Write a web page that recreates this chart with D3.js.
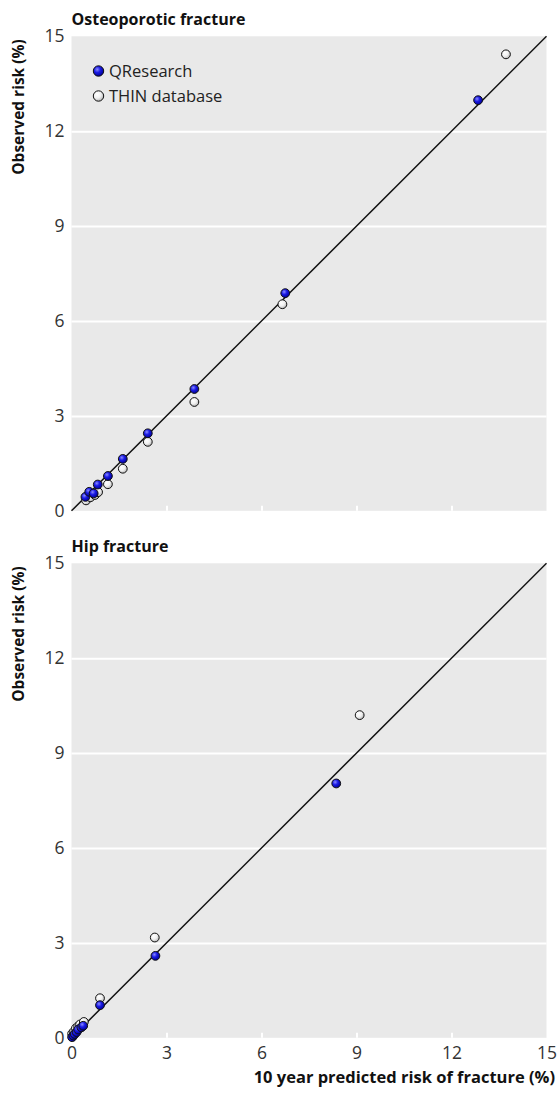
<!DOCTYPE html>
<html>
<head>
<meta charset="utf-8">
<script src="https://cdn.jsdelivr.net/npm/d3@7/dist/d3.min.js"></script>
<style>
  html, body { margin: 0; padding: 0; background: #fff; }
  svg { display: block; }
  .tick text { font-family: "Open Sans", sans-serif; }
</style>
</head>
<body>
<svg id="chart" width="558" height="1104"></svg>
<script>
// ---- Data ----
const ticks = [0, 3, 6, 9, 12, 15];
const seriesNames = ["QResearch", "THIN database"];

// Osteoporotic fracture: [predicted, observed]
const osteoQResearch = [[0.44,0.44],[0.56,0.60],[0.70,0.55],[0.83,0.83],[1.15,1.10],[1.62,1.64],[2.41,2.45],[3.88,3.85],[6.75,6.88],[12.84,12.98]];
const osteoTHIN = [[0.46,0.33],[0.60,0.43],[0.74,0.50],[0.84,0.59],[1.15,0.84],[1.62,1.33],[2.41,2.18],[3.88,3.44],[6.66,6.53],[13.72,14.43]];

// Hip fracture
const hipQResearch = [[0.02,0.02],[0.06,0.07],[0.10,0.12],[0.16,0.18],[0.21,0.26],[0.31,0.33],[0.37,0.38],[0.90,1.03],[2.65,2.59],[8.36,8.04]];
const hipTHIN = [[0.02,0.13],[0.08,0.20],[0.14,0.30],[0.21,0.36],[0.27,0.42],[0.39,0.50],[0.90,1.25],[2.63,3.17],[9.10,10.20]];

const panelTitles = ["Osteoporotic fracture", "Hip fracture"];
const yTitle = "Observed risk (%)";
const xTitle = "10 year predicted risk of fracture (%)";

// ---- Layout ----
const svg = d3.select("#chart");
const L = 71.5, R = 546.5;
const panels = [
  { top: 36.3, bottom: 510.8, title: panelTitles[0], q: osteoQResearch, t: osteoTHIN, legend: true, xLabels: false },
  { top: 563.3, bottom: 1037.8, title: panelTitles[1], q: hipQResearch, t: hipTHIN, legend: false, xLabels: true }
];

const defs = svg.append("defs");
const gb = defs.append("radialGradient").attr("id", "gBlue").attr("cx", "38%").attr("cy", "35%").attr("r", "65%");
gb.append("stop").attr("offset", "0%").attr("stop-color", "#8a8aff");
gb.append("stop").attr("offset", "45%").attr("stop-color", "#1c1ce6");
gb.append("stop").attr("offset", "100%").attr("stop-color", "#00009a");
const gw = defs.append("radialGradient").attr("id", "gWhite").attr("cx", "38%").attr("cy", "35%").attr("r", "65%");
gw.append("stop").attr("offset", "0%").attr("stop-color", "#ffffff");
gw.append("stop").attr("offset", "55%").attr("stop-color", "#f0f0f0");
gw.append("stop").attr("offset", "100%").attr("stop-color", "#b8b8b8");

const x = d3.scaleLinear().domain([0, 15]).range([L, R]);

panels.forEach(p => {
  const y = d3.scaleLinear().domain([0, 15]).range([p.bottom, p.top]);
  const g = svg.append("g");

  g.append("rect").attr("x", L).attr("y", p.top).attr("width", R - L).attr("height", p.bottom - p.top)
    .attr("fill", "#e9e9e9");

  // horizontal white gridlines
  const grid = g.append("g").attr("transform", `translate(${L},0)`)
    .call(d3.axisLeft(y).tickValues(ticks.filter(v => v > 0 && v < 15)).tickSize(-(R - L)).tickFormat(""));
  grid.select(".domain").remove();
  grid.selectAll("line").attr("stroke", "#ffffff").attr("stroke-width", 2);

  // x tick marks (white, inside bottom)
  const xt = g.append("g").attr("transform", `translate(0,${p.bottom})`)
    .call(d3.axisTop(x).tickValues(ticks.filter(v => v > 0 && v < 15)).tickSize(5).tickFormat(""));
  xt.select(".domain").remove();
  xt.selectAll("line").attr("stroke", "#ffffff").attr("stroke-width", 2);

  // y tick labels
  const ya = g.append("g").attr("transform", `translate(${L},0)`)
    .call(d3.axisLeft(y).tickValues(ticks).tickSize(0).tickPadding(7));
  ya.select(".domain").remove();
  ya.selectAll("text").attr("font-size", 17.5).attr("fill", "#333");

  if (p.xLabels) {
    const xa = g.append("g").attr("transform", `translate(0,${p.bottom})`)
      .call(d3.axisBottom(x).tickValues(ticks).tickSize(0).tickPadding(9));
    xa.select(".domain").remove();
    xa.selectAll("text").attr("font-size", 17.5).attr("fill", "#333");
  }

  // identity line
  g.append("line")
    .attr("x1", x(0)).attr("y1", y(0)).attr("x2", x(15)).attr("y2", y(15))
    .attr("stroke", "#111").attr("stroke-width", 1.5);

  // points
  g.append("g").selectAll("circle").data(p.t).join("circle")
    .attr("cx", d => x(d[0])).attr("cy", d => y(d[1])).attr("r", 4.4)
    .attr("fill", "url(#gWhite)").attr("stroke", "#111").attr("stroke-width", 1);
  g.append("g").selectAll("circle").data(p.q).join("circle")
    .attr("cx", d => x(d[0])).attr("cy", d => y(d[1])).attr("r", 4.4)
    .attr("fill", "url(#gBlue)").attr("stroke", "#111").attr("stroke-width", 1);

  // panel title
  g.append("text").attr("x", L).attr("y", p.top - 11)
    .attr("font-family", "'Open Sans', sans-serif").attr("font-weight", "bold").attr("font-size", 16)
    .attr("fill", "#111").text(p.title);

  // y title
  g.append("text").attr("transform", `translate(24,${p.top + 3}) rotate(-90)`)
    .attr("text-anchor", "end")
    .attr("font-family", "'Open Sans', sans-serif").attr("font-weight", "bold").attr("font-size", 15.5)
    .attr("fill", "#111").text(yTitle);

  if (p.legend) {
    const lg = g.append("g");
    const items = [{ name: seriesNames[0], fill: "url(#gBlue)" }, { name: seriesNames[1], fill: "url(#gWhite)" }];
    items.forEach((it, i) => {
      const cy = 71 + i * 25;
      lg.append("circle").attr("cx", 98.5).attr("cy", cy).attr("r", 5.2)
        .attr("fill", it.fill).attr("stroke", "#111").attr("stroke-width", 1);
      lg.append("text").attr("x", 109).attr("y", cy + 6)
        .attr("font-family", "'Open Sans', sans-serif").attr("font-size", 16.5).attr("fill", "#222")
        .text(it.name);
    });
  }
});

// x axis title
svg.append("text").attr("x", 555).attr("y", 1083).attr("text-anchor", "end")
  .attr("font-family", "'Open Sans', sans-serif").attr("font-weight", "bold").attr("font-size", 16.5)
  .attr("fill", "#111").text(xTitle);
</script>
</body>
</html>
